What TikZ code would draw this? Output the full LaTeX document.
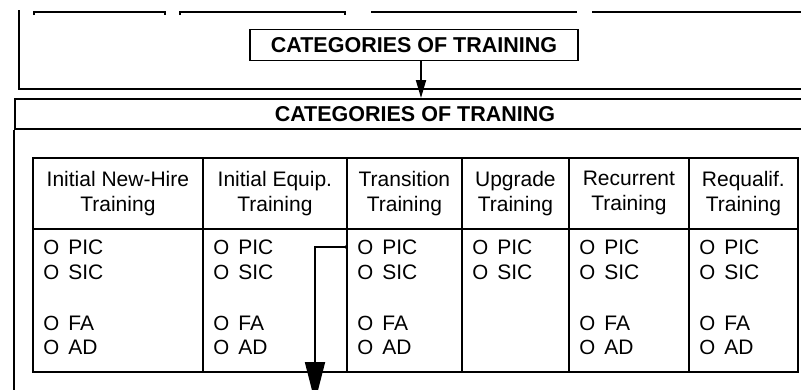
\documentclass[tikz,border=0pt]{standalone}
\usepackage{fontspec}
\setmainfont{Liberation Sans}
\usetikzlibrary{positioning,arrows.meta}
\tikzset{>={Triangle[width=10pt,length=18pt]}}
\newcommand*{\opt}[1]{{\fontsize{20.5}{20}\selectfont O}\hspace{9pt}#1}

\begin{document}
\begin{tikzpicture}[x=1pt,y=-1pt,line width=1.8pt,
  font=\fontsize{21}{25}\selectfont,
  titlebox/.style={draw,inner sep=0pt,font=\fontsize{21.5}{25}\selectfont\bfseries},
  headcell/.style={draw,inner sep=0pt,minimum height=71pt,align=center,anchor=north west},
  bodycell/.style={draw,inner sep=0pt,minimum height=143pt,anchor=north west},
  item/.style={inner sep=0pt,anchor=west}]
\useasboundingbox (0,0) rectangle (801,389);
\draw (34,15) -- (34,12) -- (165,12) -- (165,15);
\draw (180,15) -- (180,12) -- (345,12) -- (345,15);
\draw (371,12) -- (577,12);
\draw (592,12) -- (810,12);
\draw (19,10) -- (19,89) -- (810,89);
\node[titlebox,minimum width=328pt,minimum height=31pt] (cat) at (414,45) {CATEGORIES OF TRAINING};
\node[titlebox,minimum width=800pt,minimum height=30pt,anchor=north west] (hdr) at (14,98) {CATEGORIES OF TRANING};
\draw[->] ([xshift=7pt]cat.south) -- ([xshift=7pt]cat.south |- hdr.north);
\draw (hdr.south west) -- (14,400);
\foreach \n/\xa/\xb/\txt in {1/32/202/Initial New-Hire,2/202/346/Initial Equip.,3/346/461/Transition,
    4/461/568/Upgrade,5/568/688/Recurrent,6/688/797/Requalif.} {
  \node[headcell,minimum width={(\xb-\xa)*1pt}] (h\n) at (\xa,157) {\txt\\Training};
  \node[bodycell,minimum width={(\xb-\xa)*1pt}] (b\n) at (\xa,228) {};
  \node[item] (p\n) at (\xa+10.5,247) {\opt{PIC}};
  \node[item] (s\n) at (\xa+10.5,272) {\opt{SIC}};
}
\foreach \n/\xa in {1/32,2/202,3/346,5/568,6/688} {
  \node[item] (f\n) at (\xa+10.5,323) {\opt{FA}};
  \node[item] (a\n) at (\xa+10.5,347) {\opt{AD}};
}
\coordinate (out) at (315,402);
\fill (b3.west |- p3) circle[radius=1.8pt];
\draw[-{Triangle[width=20pt,length=40pt]}] (b3.west |- p3) -| (out);
\end{tikzpicture}
\end{document}
